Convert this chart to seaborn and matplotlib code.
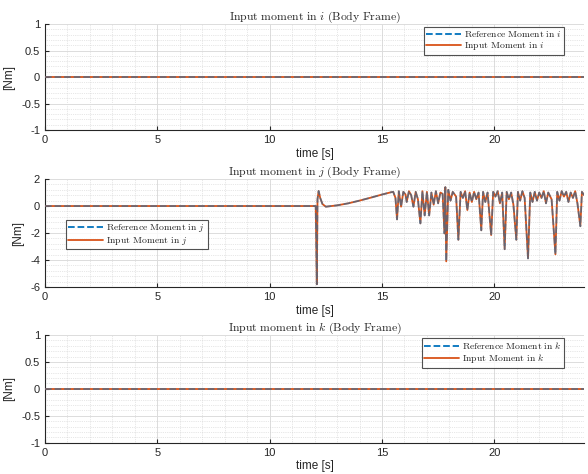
import matplotlib
matplotlib.use("Agg")
import matplotlib.pyplot as plt
import seaborn as sns
import numpy as np
from matplotlib.ticker import MultipleLocator, FormatStrFormatter

sns.set_style("white")
plt.rcParams['font.family'] = ['Liberation Sans', 'DejaVu Sans']
plt.rcParams['mathtext.fontset'] = 'cm'
plt.rcParams['axes.unicode_minus'] = False

# time axis and flat moments (i and k)
t_flat = [0.0, 24.0]
m_i = [0.0, 0.0]
m_k = [0.0, 0.0]

# moment in j
t_j = [0.0, 12.00, 12.05, 12.10, 12.13, 12.18, 12.25, 12.35, 12.50, 13.00, 13.50, 14.00,
       14.50, 15.00, 15.40, 15.50, 15.60, 15.67, 15.75, 15.85, 15.95, 16.05, 16.10, 16.20,
       16.30, 16.40, 16.50, 16.60, 16.71, 16.80, 16.90, 17.00, 17.10, 17.20, 17.30, 17.40,
       17.50, 17.60, 17.70, 17.78, 17.82, 17.86, 17.95, 18.05, 18.15, 18.30, 18.40, 18.50,
       18.60, 18.70, 18.80, 18.90, 19.00, 19.10, 19.20, 19.30, 19.42, 19.50, 19.60, 19.70,
       19.86, 19.95, 20.05, 20.15, 20.25, 20.35, 20.46, 20.55, 20.65, 20.75, 20.85, 20.98,
       21.05, 21.15, 21.25, 21.35, 21.50, 21.60, 21.70, 21.80, 21.90, 22.00, 22.10, 22.20,
       22.30, 22.40, 22.55, 22.72, 22.80, 22.90, 23.00, 23.10, 23.20, 23.30, 23.40, 23.50,
       23.60, 23.70, 23.83, 23.90, 24.00]
m_j = [0.0, 0.0, 0.0, -5.80, 0.50, 1.12, 0.60, 0.15, -0.05, 0.05, 0.20, 0.40,
       0.62, 0.85, 1.02, 1.05, 0.60, -0.99, 1.10, -0.05, 1.05, 0.85, 0.30, 1.10,
       0.80, -0.05, 1.05, 0.50, -1.29, 1.10, -0.70, 1.05, -0.70, 1.00, 0.10, 1.10,
       0.20, 1.00, 0.90, -2.03, 1.40, -4.10, 1.20, 0.40, 1.05, 0.70, -2.50, 1.05,
       0.60, 1.10, -0.30, 1.00, 0.30, 1.05, 0.50, 1.00, -1.80, 1.05, 0.30, 1.00,
       -2.15, 1.05, 0.70, 1.10, 0.20, 1.00, -3.20, 1.05, 0.50, 1.00, 0.10, -2.50,
       1.05, 0.40, 1.10, 0.60, -3.88, 1.00, 0.30, 1.05, 0.40, 1.00, 0.60, 1.10,
       0.20, 1.00, 0.50, -3.58, 1.05, 0.40, 1.10, 0.70, 1.05, 0.30, 1.00, 0.60,
       1.10, 0.20, -1.50, 1.05, 0.80]

ref_color = '#0072BD'
inp_color = '#D95319'

fig = plt.figure(figsize=(5.88, 4.74), dpi=100)
positions = [[0.0765, 0.7257, 0.917, 0.2236],
             [0.0765, 0.3945, 0.917, 0.2278],
             [0.0765, 0.0660, 0.917, 0.2272]]

panels = [
    ('i', t_flat, m_i, (-1, 1), 0.5, 0.1, (0.963, 0.975), 'upper right'),
    ('j', t_j, m_j, (-6, 2), 2, 0.4, (0.039, 0.625), 'upper left'),
    ('k', t_flat, m_k, (-1, 1), 0.5, 0.1, (0.963, 0.975), 'upper right'),
]

for pos, (axis, t, m, ylim, ymaj, ymin, anchor, loc) in zip(positions, panels):
    ax = fig.add_axes(pos)
    sns.lineplot(x=t, y=m, ax=ax, color=inp_color, lw=1.3, sort=False, estimator=None,
                 label=r'$\mathrm{Input\ Moment\ in\ }%s$' % axis, zorder=3)
    sns.lineplot(x=t, y=m, ax=ax, color=ref_color, lw=1.3, sort=False, estimator=None,
                 linestyle='--', alpha=0.5,
                 label=r'$\mathrm{Reference\ Moment\ in\ }%s$' % axis, zorder=4)
    ax.set_xlim(0, 24)
    ax.set_ylim(*ylim)
    ax.xaxis.set_major_locator(MultipleLocator(5))
    ax.xaxis.set_minor_locator(MultipleLocator(1))
    ax.yaxis.set_major_locator(MultipleLocator(ymaj))
    ax.yaxis.set_minor_locator(MultipleLocator(ymin))
    ax.yaxis.set_major_formatter(FormatStrFormatter('%g'))
    ax.grid(which='major', color='#dcdcdc', lw=0.7)
    ax.grid(which='minor', color='#d0d0d0', lw=0.5, linestyle=':')
    ax.set_axisbelow(True)
    for s in ['top', 'right']:
        ax.spines[s].set_visible(False)
    for s in ['left', 'bottom']:
        ax.spines[s].set_color('#262626')
        ax.spines[s].set_linewidth(0.8)
    ax.tick_params(which='major', direction='in', length=3, width=0.8, labelsize=8,
                   colors='#262626', top=False, right=False, left=True, bottom=True)
    ax.tick_params(which='minor', length=0)
    ax.set_xlabel('time [s]', fontsize=8.5, labelpad=2)
    ax.set_ylabel('[Nm]', fontsize=8.5, labelpad=4)
    ax.set_title(r'$\mathrm{Input\ moment\ in\ }%s\mathrm{\ (Body\ Frame)}$' % axis,
                 fontsize=8.5, pad=3)
    h, l = ax.get_legend_handles_labels()
    leg = ax.legend(h[::-1], l[::-1], loc=loc, bbox_to_anchor=anchor,
                    fontsize=7, frameon=True, fancybox=False, borderpad=0.25,
                    handlelength=3.6, handletextpad=0.3, labelspacing=0.1,
                    borderaxespad=0.0)
    leg.get_frame().set_edgecolor('#262626')
    leg.get_frame().set_linewidth(0.8)
    for lh in leg.get_lines():
        lh.set_alpha(1.0)

fig.savefig('out.png', dpi=100)
